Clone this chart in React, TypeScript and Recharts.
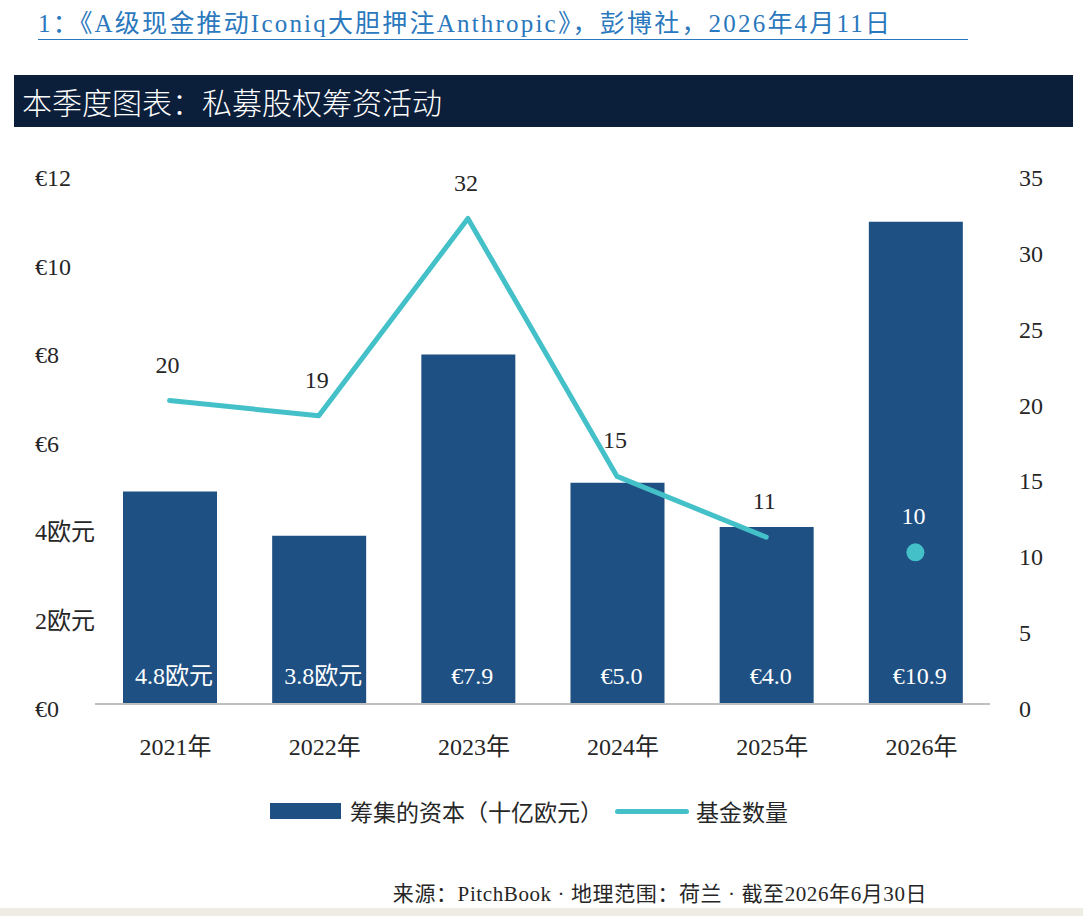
import React from 'react';
import {
  ComposedChart,
  Bar,
  Line,
  XAxis,
  YAxis,
  LabelList,
} from 'recharts';

// 私募股权筹资活动：年度数据
const years = ['2021年', '2022年', '2023年', '2024年', '2025年', '2026年'];
const capitalRaised = [4.8, 3.8, 7.9, 5.0, 4.0, 10.9]; // 十亿欧元
const capitalLabels = ['4.8欧元', '3.8欧元', '€7.9', '€5.0', '€4.0', '€10.9'];
const fundCount = [20, 19, 32, 15, 11, 10];
// 2026年尚未结束，只画单点，不连线
const fundConnected = [true, true, true, true, true, false];

const leftTicks = [0, 2, 4, 6, 8, 10, 12];
const leftTickLabels = ['€0', '2欧元', '4欧元', '€6', '€8', '€10', '€12'];
const rightTicks = [0, 5, 10, 15, 20, 25, 30, 35];

const BAR_COLOR = '#1e5083';
const LINE_COLOR = '#43c0c8';
const TEXT_COLOR = '#262626';
const FONT = "'Liberation Serif', 'Noto Sans CJK SC', serif";
const CJK = "'Noto Sans CJK SC', sans-serif";

const data = years.map((year, i) => ({
  year,
  capital: capitalRaised[i],
  capitalLabel: capitalLabels[i],
  fundsLine: fundConnected[i] ? fundCount[i] : null,
  fundsDot: fundConnected[i] ? null : fundCount[i],
}));

const LeftTick = (props: any) => {
  const { y, payload } = props;
  const idx = leftTicks.indexOf(payload.value);
  return (
    <text x={35} y={y + 13} fill={TEXT_COLOR} fontSize={24} fontFamily={FONT} textAnchor="start">
      {leftTickLabels[idx]}
    </text>
  );
};

const RightTick = (props: any) => {
  const { y, payload } = props;
  return (
    <text x={1019} y={y + 13} fill={TEXT_COLOR} fontSize={24} fontFamily={FONT} textAnchor="start">
      {payload.value}
    </text>
  );
};

const XTick = (props: any) => {
  const { x, y, payload } = props;
  return (
    <text x={x + 6} y={y + 43} fill={TEXT_COLOR} fontSize={24} fontFamily={FONT} textAnchor="middle">
      {payload.value}
    </text>
  );
};

const BarValueLabel = (props: any) => {
  const { x, y, width, height, value } = props;
  return (
    <text
      x={x + width / 2 + 4}
      y={y + height - 20}
      fill="#ffffff"
      fontSize={24}
      fontFamily={FONT}
      textAnchor="middle"
    >
      {value}
    </text>
  );
};

const PointLabel = (color: string) => (props: any) => {
  const { x, y, value } = props;
  if (value == null) return null;
  return (
    <text x={x - 2} y={y - 28} fill={color} fontSize={24} fontFamily={FONT} textAnchor="middle">
      {value}
    </text>
  );
};

const ChartLegend = () => (
  <div
    style={{
      position: 'absolute',
      left: 270,
      top: 794,
      display: 'flex',
      alignItems: 'center',
      fontFamily: CJK,
      fontSize: 23,
      color: TEXT_COLOR,
      whiteSpace: 'nowrap',
    }}
  >
    <span style={{ display: 'inline-block', width: 71, height: 16, background: BAR_COLOR }} />
    <span style={{ marginLeft: 9 }}>筹集的资本（十亿欧元）</span>
    <span
      style={{
        display: 'inline-block',
        width: 74,
        height: 5,
        borderRadius: 3,
        background: LINE_COLOR,
        marginLeft: 12,
      }}
    />
    <span style={{ marginLeft: 7 }}>基金数量</span>
  </div>
);

export default function App() {
  return (
    <div
      style={{
        position: 'absolute',
        left: 0,
        top: 0,
        width: 1083,
        height: 916,
        background: '#ffffff',
        overflow: 'hidden',
      }}
    >
      <div
        style={{
          position: 'absolute',
          left: 38,
          top: 9,
          width: 930,
          height: 30,
          borderBottom: '1.5px solid #2a78bd',
          color: '#2a78bd',
          fontFamily: FONT,
          fontSize: 25,
          letterSpacing: 2.2,
          lineHeight: '30px',
          whiteSpace: 'nowrap',
        }}
      >
        1：《A级现金推动Iconiq大胆押注Anthropic》，彭博社，2026年4月11日
      </div>

      <div
        style={{
          position: 'absolute',
          left: 14,
          top: 75,
          width: 1059,
          height: 52,
          background: '#0b1e3a',
          color: '#ffffff',
          fontFamily: CJK,
          fontWeight: 300,
          fontSize: 30,
          lineHeight: '52px',
          paddingLeft: 8,
          boxSizing: 'border-box',
        }}
      >
        本季度图表：私募股权筹资活动
      </div>

      <div style={{ position: 'absolute', left: 0, top: 0 }}>
        <ComposedChart
          width={1083}
          height={840}
          data={data}
          margin={{ top: 173, right: 0, bottom: 0, left: 0 }}
          barCategoryGap={0}
        >
          <XAxis
            dataKey="year"
            tick={<XTick />}
            tickLine={false}
            axisLine={{ stroke: '#bfbfbf', strokeWidth: 2 }}
            height={136}
            interval={0}
          />
          <YAxis
            yAxisId="left"
            domain={[0, 12]}
            ticks={leftTicks}
            width={95}
            tick={<LeftTick />}
            tickLine={false}
            axisLine={false}
          />
          <YAxis
            yAxisId="right"
            orientation="right"
            domain={[0, 35]}
            ticks={rightTicks}
            width={93}
            tick={<RightTick />}
            tickLine={false}
            axisLine={false}
          />
          <Bar
            yAxisId="left"
            dataKey="capital"
            fill={BAR_COLOR}
            barSize={94}
            isAnimationActive={false}
          >
            <LabelList dataKey="capitalLabel" content={<BarValueLabel />} />
          </Bar>
          <Line
            yAxisId="right"
            type="linear"
            dataKey="fundsLine"
            stroke={LINE_COLOR}
            strokeWidth={5}
            strokeLinecap="round"
            strokeLinejoin="round"
            dot={false}
            activeDot={false}
            connectNulls={false}
            isAnimationActive={false}
          >
            <LabelList dataKey="fundsLine" content={PointLabel(TEXT_COLOR)} />
          </Line>
          <Line
            yAxisId="right"
            type="linear"
            dataKey="fundsDot"
            stroke="none"
            dot={{ r: 9, fill: LINE_COLOR, stroke: 'none' }}
            activeDot={false}
            isAnimationActive={false}
          >
            <LabelList dataKey="fundsDot" content={PointLabel('#ffffff')} />
          </Line>
        </ComposedChart>
      </div>

      <ChartLegend />

      <div
        style={{
          position: 'absolute',
          left: 0,
          top: 877,
          width: 1083,
          textAlign: 'center',
          paddingLeft: 237,
          boxSizing: 'border-box',
          fontFamily: FONT,
          fontSize: 21,
          letterSpacing: 0.6,
          color: TEXT_COLOR,
          whiteSpace: 'nowrap',
        }}
      >
        来源：PitchBook · 地理范围：荷兰 · 截至2026年6月30日
      </div>

      <div
        style={{
          position: 'absolute',
          left: 0,
          top: 908,
          width: 1083,
          height: 8,
          background: '#efece4',
        }}
      />
    </div>
  );
}
